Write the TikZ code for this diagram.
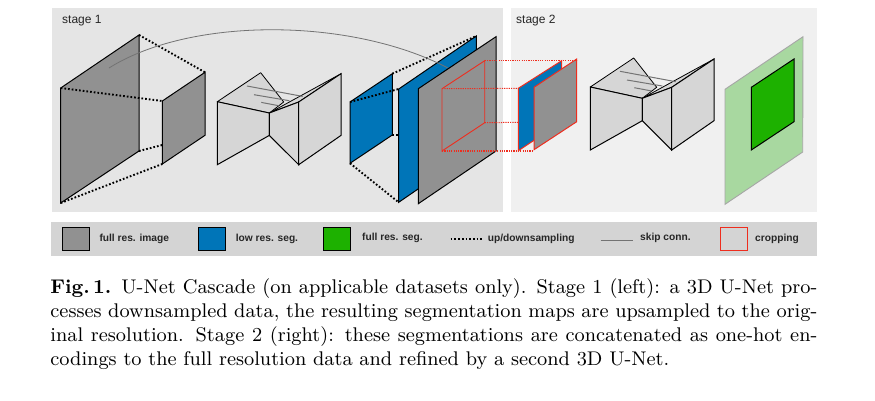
\documentclass[tikz,border=0pt]{standalone}
\usepackage{fontspec}
\setsansfont{Liberation Sans}
\definecolor{cascgray}{RGB}{145, 145, 145}
\definecolor{cascblue}{RGB}{0, 117, 184}
\definecolor{cascgreen}{RGB}{29, 177, 0}
\definecolor{casclight}{RGB}{168, 216, 160}
\definecolor{cascred}{RGB}{238, 45, 30}
\definecolor{cascunet}{RGB}{214, 214, 214}
\usetikzlibrary{positioning}
\tikzset{
    panelone/.style={fill=black!10},
    paneltwo/.style={fill=black!6},
    legendbar/.style={fill=black!17},
    plane/.style={draw=black, line width=1pt},
    updown/.style={black, line width=1.9pt, dash pattern=on 1.7pt off 2pt},
    cropdots/.style={cascred, line width=1pt, dash pattern=on 1.2pt off 1.1pt},
    skipconn/.style={black!55, line width=0.8pt},
    stagelabel/.style={font=\sffamily\fontsize{12}{14}\selectfont, anchor=west, inner sep=0pt, text=black!85},
    legendlabel/.style={font=\sffamily\bfseries\fontsize{10.2}{12}\selectfont, anchor=west, inner sep=0pt, text=black!85},
}
% one U-Net, drawn at the coordinates of stage 2
\newcommand{\drawunet}{
    \draw[fill=cascunet, line width=0.8pt, line join=round] (590.3,87) -- (633.7,58) -- (656.7,87.3) -- (642.3,98.3) -- cycle;
    \draw[fill=cascunet, line width=0.8pt, line join=round] (642.3,98.3) -- (714,59) -- (671.7,87.3) -- cycle;
    \draw[skipconn, line width=1pt] (620,71.3) -- (675.7,81.7);
    \draw[skipconn, line width=1pt] (627,80) -- (662.3,86);
    \draw[skipconn, line width=1pt] (634.3,87.7) -- (651.7,91);
    \draw[fill=cascunet, plane] (590.3,87) -- (642.3,98.3) -- (642.3,120.7) -- (590.3,150) -- cycle;
    \draw[fill=cascunet, plane] (642.3,98.3) -- (671.7,87.3) -- (671.7,150) -- (642.3,120.7) -- cycle;
    \draw[fill=cascunet, plane] (671.7,87.3) -- (714,59) -- (714,120.7) -- (671.7,150) -- cycle;
}

\begin{document}
\begin{tikzpicture}[x=1pt, y=-1pt]
\useasboundingbox (0,0) rectangle (875,400);

% === Panels ===
\fill[panelone] (52,8) rectangle (503,212);
\fill[paneltwo] (511,8) rectangle (817,212);
\fill[legendbar] (51,222) rectangle (817,256);
\node[stagelabel] (stageone) at (62,21) {stage 1};
\node[stagelabel] (stagetwo) at (516,21) {stage 2};

% === Corners the connectors run between ===
\coordinate (imgA) at (60.7,88);
\coordinate (imgB) at (139,35);
\coordinate (imgC) at (139,151);
\coordinate (imgD) at (60.7,203);
\coordinate (lowA) at (162.3,101);
\coordinate (lowB) at (205,72.3);
\coordinate (lowC) at (162.3,145);
\coordinate (lowD) at (162.3,164);
\coordinate (segA) at (350,102);
\coordinate (segB) at (392.3,73.7);
\coordinate (segC) at (392.3,135);
\coordinate (segD) at (350,163.3);
\coordinate (bigA) at (398.7,89);
\coordinate (bigB) at (476.3,36);
\coordinate (bigC) at (398.7,135);
\coordinate (bigD) at (398.7,202.3);
\coordinate (cropA) at (442,88.7);
\coordinate (cropB) at (484.7,60.7);
\coordinate (cropC) at (484.7,122.7);
\coordinate (cropD) at (442,151);
\coordinate (destA) at (518.3,88.3);
\coordinate (destB) at (576.7,60.7);
\coordinate (destC) at (518.3,122.3);
\coordinate (destD) at (533,151);
\coordinate (skipA) at (109,68);
\coordinate (skipB) at (448,68);

% === Stage 1 ===
\draw[plane, fill=cascgray] (imgA) -- (imgB) -- (imgC) -- (imgD) -- cycle;
\draw[plane, fill=cascgray] (lowA) -- (lowB) -- (205,135.3) -- (lowD) -- cycle;
\foreach \a/\b in {imgB/lowB, imgA/lowA, imgC/lowC, imgD/lowD} {
    \draw[updown] (\a) -- (\b);
}
\begin{scope}[shift={(-373,14.7)}]
    \drawunet
\end{scope}
\draw[plane, fill=cascblue] (segA) -- (segB) -- (segC) -- (segD) -- cycle;
\draw[plane, fill=cascblue] (bigA) -- (bigB) -- (476.3,149) -- (bigD) -- cycle;
\foreach \a/\b in {segA/bigA, segB/bigB, segC/bigC, segD/bigD} {
    \draw[updown] (\a) -- (\b);
}
\draw[skipconn] (skipA) .. controls (190,17) and (350,17) .. (skipB);
\draw[plane, fill=cascgray] (418.3,88.7) -- (496,36.7) -- (496,151) -- (418.3,203.7) -- cycle;
\draw[cascred, line width=0.9pt] (cropA) -- (cropB) -- (cropC) -- (cropD) -- cycle;

% === Stage 2 ===
\draw[cascred, fill=cascblue, line width=1pt] (destA) -- (561.7,60.7) -- (561.7,122) -- (518.3,150.7) -- cycle;
\draw[cascred, fill=cascgray, line width=1pt] (534,87.3) -- (576.7,59) -- (576.7,121.7) -- (534,149.7) -- cycle;
\foreach \a/\b in {cropA/destA, cropB/destB, cropC/destC} {
    \draw[cropdots] (\a) -- (\b);
}
\draw[cropdots, line width=1.5pt] (cropD) -- (destD);
\drawunet
\draw[draw=black!35, fill=casclight, line width=0.9pt] (725,89.3) -- (803,36.7) -- (802.7,152) -- (725,204.3) -- cycle;
\draw[plane, fill=cascgreen] (751.3,87.3) -- (794,59) -- (794,121.7) -- (751.3,150) -- cycle;

% === Legend ===
\foreach \x/\col/\txt/\xt/\yt in {
    62.3/cascgray/full res. image/99.3/238.7,
    198.3/cascblue/low res. seg./235.7/238.7,
    323.3/cascgreen/full res. seg./362/237.7
} {
    \draw[plane, fill=\col] (\x,227.3) rectangle (\x+27,250.3);
    \node[legendlabel] at (\xt,\yt) {\txt};
}
\coordinate (dotsA) at (450.7,238.7);
\coordinate (dotsB) at (482.3,238.7);
\coordinate (lineA) at (600.7,240.3);
\coordinate (lineB) at (632.7,240.3);
\draw[updown] (dotsA) -- (dotsB);
\node[legendlabel] (legdots) at (487.7,238.7) {up/downsampling};
\draw[skipconn] (lineA) -- (lineB);
\node[legendlabel] (legskip) at (640,238) {skip conn.};
\draw[cascred, line width=0.9pt] (720.3,227.3) rectangle (747.7,250.3);
\node[legendlabel] (legcrop) at (755,238.7) {cropping};

% === Caption ===
\node[anchor=north west, inner sep=0pt, scale=2.2, text width=348.6pt, align=justify, font=\fontsize{9}{11}\selectfont] (caption) at (50,278) {
    \textbf{Fig.\,1.} U-Net Cascade (on applicable datasets only). Stage 1 (left): a 3D U-Net pro-\linebreak cesses downsampled data, the resulting segmentation maps are upsampled to the orig-\linebreak inal resolution. Stage 2 (right): these segmentations are concatenated as one-hot en-\linebreak codings to the full resolution data and refined by a second 3D U-Net.
};

\end{tikzpicture}
\end{document}
